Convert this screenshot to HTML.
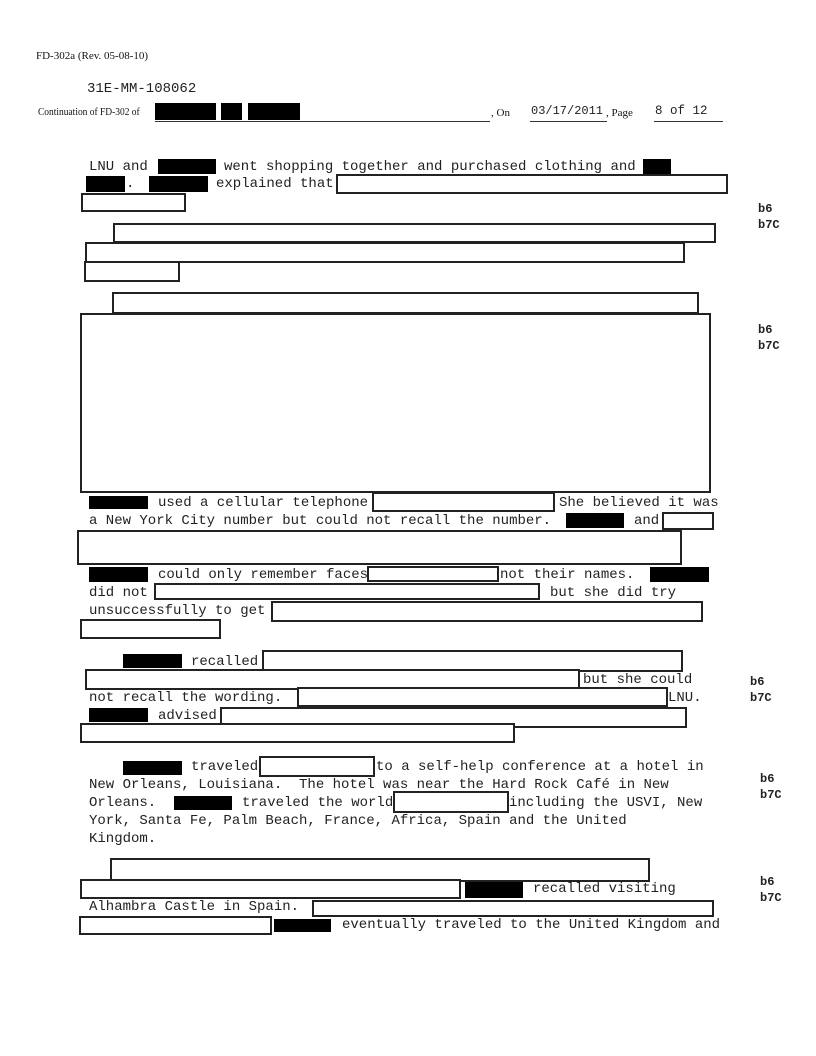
<!DOCTYPE html>
<html><head><meta charset="utf-8"><style>
body{margin:0;background:#fff;}
#p{position:relative;width:816px;height:1056px;overflow:hidden;background:#fff;}
.t{position:absolute;font-family:"Liberation Mono",monospace;font-size:14px;line-height:18px;white-space:pre;color:#222;}
.s{position:absolute;font-family:"Liberation Serif",serif;font-size:11px;white-space:pre;color:#111;}
.k{position:absolute;background:#000;}
.b{position:absolute;border:2px solid #222;box-sizing:border-box;background:#fff;}
.l{position:absolute;background:#333;height:1px;}
.c{position:absolute;font-family:"Liberation Mono",monospace;font-size:12px;font-weight:bold;color:#222;line-height:16px;}
</style></head><body><div id="p">
<div class="s" style="left:36px;top:50px">FD-302a (Rev. 05-08-10)</div>
<div class="t" style="left:87px;top:80px">31E-MM-108062</div>
<div class="s" style="left:38px;top:106px;transform:scaleX(0.86);transform-origin:0 0">Continuation of FD-302 of</div>
<div class="k" style="left:155px;top:103px;width:61px;height:17px"></div>
<div class="k" style="left:221px;top:103px;width:21px;height:17px"></div>
<div class="k" style="left:248px;top:103px;width:52px;height:17px"></div>
<div class="l" style="left:155px;top:121px;width:335px"></div>
<div class="s" style="left:491px;top:107px">, On</div>
<div class="t" style="left:531px;top:102px;font-size:12px">03/17/2011</div>
<div class="l" style="left:530px;top:121px;width:77px"></div>
<div class="s" style="left:606px;top:107px">, Page</div>
<div class="t" style="left:655px;top:102px;font-size:12.5px">8 of 12</div>
<div class="l" style="left:654px;top:121px;width:69px"></div>

<div class="t" style="left:89px;top:158px">LNU and</div>
<div class="k" style="left:158px;top:159px;width:58px;height:15px"></div>
<div class="t" style="left:224px;top:158px">went shopping together and purchased clothing and</div>
<div class="k" style="left:643px;top:159px;width:28px;height:15px"></div>
<div class="k" style="left:86px;top:176px;width:39px;height:16px"></div>
<div class="t" style="left:126px;top:175px">.</div>
<div class="k" style="left:149px;top:176px;width:59px;height:16px"></div>
<div class="t" style="left:216px;top:175px">explained that</div>
<div class="b" style="left:336px;top:174px;width:392px;height:20px"></div>
<div class="b" style="left:81px;top:193px;width:105px;height:19px"></div>
<div class="c" style="left:758px;top:201px">b6<br>b7C</div>

<div class="b" style="left:113px;top:223px;width:603px;height:20px"></div>
<div class="b" style="left:85px;top:242px;width:600px;height:21px"></div>
<div class="b" style="left:84px;top:261px;width:96px;height:21px"></div>

<div class="b" style="left:112px;top:292px;width:587px;height:22px"></div>
<div class="b" style="left:80px;top:313px;width:631px;height:180px"></div>
<div class="c" style="left:758px;top:322px">b6<br>b7C</div>

<div class="k" style="left:89px;top:496px;width:59px;height:13px"></div>
<div class="t" style="left:158px;top:494px">used a cellular telephone</div>
<div class="b" style="left:372px;top:492px;width:183px;height:20px"></div>
<div class="t" style="left:559px;top:494px">She believed it was</div>
<div class="t" style="left:89px;top:512px">a New York City number but could not recall the number.</div>
<div class="k" style="left:566px;top:513px;width:58px;height:15px"></div>
<div class="t" style="left:634px;top:512px">and</div>
<div class="b" style="left:662px;top:512px;width:52px;height:18px"></div>
<div class="b" style="left:77px;top:530px;width:605px;height:35px"></div>
<div class="k" style="left:89px;top:567px;width:59px;height:15px"></div>
<div class="t" style="left:158px;top:566px">could only remember faces</div>
<div class="b" style="left:367px;top:566px;width:132px;height:16px"></div>
<div class="t" style="left:500px;top:566px">not their names.</div>
<div class="k" style="left:650px;top:567px;width:59px;height:15px"></div>
<div class="t" style="left:89px;top:584px">did not</div>
<div class="b" style="left:154px;top:583px;width:386px;height:17px"></div>
<div class="t" style="left:550px;top:584px">but she did try</div>
<div class="t" style="left:89px;top:602px">unsuccessfully to get</div>
<div class="b" style="left:271px;top:601px;width:432px;height:21px"></div>
<div class="b" style="left:80px;top:619px;width:141px;height:20px"></div>

<div class="k" style="left:123px;top:654px;width:59px;height:14px"></div>
<div class="t" style="left:191px;top:653px">recalled</div>
<div class="b" style="left:262px;top:650px;width:421px;height:22px"></div>
<div class="b" style="left:85px;top:669px;width:495px;height:21px"></div>
<div class="t" style="left:583px;top:671px">but she could</div>
<div class="t" style="left:89px;top:689px">not recall the wording.</div>
<div class="b" style="left:297px;top:687px;width:371px;height:20px"></div>
<div class="t" style="left:668px;top:689px">LNU.</div>
<div class="c" style="left:750px;top:674px">b6<br>b7C</div>
<div class="k" style="left:89px;top:708px;width:59px;height:14px"></div>
<div class="t" style="left:158px;top:707px">advised</div>
<div class="b" style="left:220px;top:707px;width:467px;height:21px"></div>
<div class="b" style="left:80px;top:723px;width:435px;height:20px"></div>

<div class="k" style="left:123px;top:761px;width:59px;height:14px"></div>
<div class="t" style="left:191px;top:758px">traveled</div>
<div class="b" style="left:259px;top:756px;width:116px;height:21px"></div>
<div class="t" style="left:376px;top:758px">to a self-help conference at a hotel in</div>
<div class="t" style="left:89px;top:776px">New Orleans, Louisiana.  The hotel was near the Hard Rock Café in New</div>
<div class="t" style="left:89px;top:794px">Orleans.</div>
<div class="k" style="left:174px;top:796px;width:58px;height:14px"></div>
<div class="t" style="left:242px;top:794px">traveled the world</div>
<div class="b" style="left:393px;top:791px;width:116px;height:22px"></div>
<div class="t" style="left:509px;top:794px">including the USVI, New</div>
<div class="t" style="left:89px;top:812px">York, Santa Fe, Palm Beach, France, Africa, Spain and the United</div>
<div class="t" style="left:89px;top:830px">Kingdom.</div>
<div class="c" style="left:760px;top:771px">b6<br>b7C</div>

<div class="b" style="left:110px;top:858px;width:540px;height:24px"></div>
<div class="b" style="left:80px;top:879px;width:381px;height:20px"></div>
<div class="k" style="left:465px;top:882px;width:58px;height:16px"></div>
<div class="t" style="left:533px;top:880px">recalled visiting</div>
<div class="c" style="left:760px;top:874px">b6<br>b7C</div>
<div class="t" style="left:89px;top:898px">Alhambra Castle in Spain.</div>
<div class="b" style="left:312px;top:900px;width:402px;height:17px"></div>
<div class="b" style="left:79px;top:916px;width:193px;height:19px"></div>
<div class="k" style="left:274px;top:919px;width:57px;height:13px"></div>
<div class="t" style="left:342px;top:916px">eventually traveled to the United Kingdom and</div>
</div></body></html>
